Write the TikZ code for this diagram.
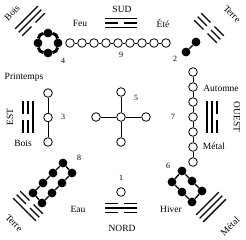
\documentclass[tikz,border=0pt]{standalone}
\usepackage{fontspec}
\setmainfont{Liberation Serif}
\newcommand\yangline[1]{\draw[yao] (-16,#1) -- (16,#1);}
\newcommand\yinline[1]{\draw[yao] (-16,#1) -- (-3,#1) (3,#1) -- (16,#1);}
\begin{document}
\begin{tikzpicture}[
  x=1pt,y=-1pt,
  yao/.style={line width=1.3pt},
  link/.style={line width=.8pt},
  pt/.style={circle,draw,line width=.8pt,fill=white,inner sep=0pt,minimum size=8.6pt},
  dot/.style={circle,fill=black,inner sep=0pt,minimum size=8.8pt},
  lbl/.style={font=\fontsize{9.5}{10}\selectfont,inner sep=0pt},
  num/.style={font=\fontsize{8}{9}\selectfont,inner sep=0pt}
]
  \useasboundingbox (0,0) rectangle (246,239);
  % trigrams
  \begin{scope}[shift={(121,23)}]
    \yangline{-4.5} \yinline{0} \yangline{4.5}
  \end{scope}
  \begin{scope}[shift={(121,208)}]
    \yinline{-4.5} \yangline{0} \yinline{4.5}
  \end{scope}
  \begin{scope}[shift={(28,117)},rotate=90]
    \yinline{-5} \yinline{0} \yangline{5}
  \end{scope}
  \begin{scope}[shift={(212,117)},rotate=90]
    \yangline{-5} \yangline{0} \yinline{5}
  \end{scope}
  \begin{scope}[shift={(30,21)},rotate=45]
    \yangline{-5} \yangline{0} \yinline{5}
  \end{scope}
  \begin{scope}[shift={(209,28)},rotate=-45]
    \yinline{-5} \yinline{0} \yinline{5}
  \end{scope}
  \begin{scope}[shift={(28,206)},rotate=-45]
    \yinline{-5} \yinline{0} \yangline{5}
  \end{scope}
  \begin{scope}[shift={(211,207)},rotate=45]
    \yangline{-5} \yangline{0} \yangline{5}
  \end{scope}

  % 9 (south)
  \foreach \i in {1,...,9} \node[pt] (s\i) at ({58+12*\i},43) {};
  \foreach \i [count=\j from 2] in {1,...,8} \draw[link] (s\i) -- (s\j);
  % 7 (west)
  \foreach \i in {1,...,7} \node[pt] (w\i) at (193,{57+15*\i}) {};
  \foreach \i [count=\j from 2] in {1,...,6} \draw[link] (w\i) -- (w\j);
  % 3 (east)
  \foreach \i in {1,2,3} \node[pt] (e\i) at (48,{68.5+24.5*\i}) {};
  \draw[link] (e1) -- (e2) (e2) -- (e3);
  % 5 (centre)
  \node[pt] (c) at (121,117) {};
  \node[pt] (ct) at (121,92) {};
  \node[pt] (cl) at (96,117) {};
  \node[pt] (cr) at (146,117) {};
  \node[pt] (cb) at (121,142) {};
  \foreach \k in {ct,cl,cr,cb} \draw[link] (c) -- (\k);
  % 1 (north)
  \node[pt] (n1) at (121,192) {};
  % 2
  \node[dot] (sw1) at (186,52) {};
  \node[dot] (sw2) at (196,42) {};
  \draw[line width=1.3pt] (sw1) -- (sw2);
  % 4
  \node[dot] (se1) at (48,33) {};
  \node[dot] (se2) at (58,43) {};
  \node[dot] (se3) at (48,53) {};
  \node[dot] (se4) at (38,43) {};
  \draw[line width=3pt] (se1) to[bend left=40] (se2) (se2) to[bend left=40] (se3)
    (se3) to[bend left=40] (se4) (se4) to[bend left=40] (se1);
  % 8
  \foreach \k in {0,...,3} {
    \node[dot] (nea\k) at ({63-10*\k},{163+10*\k}) {};
    \node[dot] (neb\k) at ({72-10*\k},{173+10*\k}) {};
  }
  \foreach \k [count=\l from 1] in {0,1,2}
    \draw[line width=1.4pt] (nea\k) -- (nea\l) (neb\k) -- (neb\l);
  \draw[line width=1.4pt] (nea0) -- (neb0) (nea3) -- (neb3);
  % 6
  \foreach \k in {0,1,2} {
    \node[dot] (nwa\k) at ({172+10*\k},{182+10*\k}) {};
    \node[dot] (nwb\k) at ({182+10*\k},{171+10*\k}) {};
  }
  \foreach \k [count=\l from 1] in {0,1}
    \draw[line width=1.4pt] (nwa\k) -- (nwa\l) (nwb\k) -- (nwb\l);
  \draw[line width=1.4pt] (nwa0) -- (nwb0) (nwa2) -- (nwb2);

  % labels
  \node[lbl] (sud) at (122,9) {SUD};
  \node[lbl] (feu) at (80,23) {Feu};
  \node[lbl] (ete) at (163,23) {Été};
  \node[lbl] (nord) at (122,228) {NORD};
  \node[lbl] (eau) at (78,209) {Eau};
  \node[lbl] (hiver) at (171,209) {Hiver};
  \node[lbl] (printemps) at (24,77) {Printemps};
  \node[lbl] (boise) at (23,143) {Bois};
  \node[lbl,rotate=90] (est) at (10,117) {EST};
  \node[lbl] (automne) at (221,88) {Automne};
  \node[lbl] (metalw) at (214,146) {Métal};
  \node[lbl,rotate=-90] (ouest) at (237,117) {OUEST};
  \node[lbl,rotate=45] (boisse) at (12,13) {Bois};
  \node[lbl,rotate=-45] (terresw) at (232,14) {Terre};
  \node[lbl,rotate=-45] (terrene) at (14,223) {Terre};
  \node[lbl,rotate=45] (metalnw) at (230,226) {Métal};
  % numbers
  \node[num] (l9) at (121,55) {9};
  \node[num] (l4) at (63,61) {4};
  \node[num] (l2) at (175,59) {2};
  \node[num] (l3) at (63,117) {3};
  \node[num] (l5) at (136,98) {5};
  \node[num] (l7) at (173,117) {7};
  \node[num] (l8) at (79,158) {8};
  \node[num] (l6) at (168,166) {6};
  \node[num] (l1) at (121,178) {1};
\end{tikzpicture}
\end{document}
